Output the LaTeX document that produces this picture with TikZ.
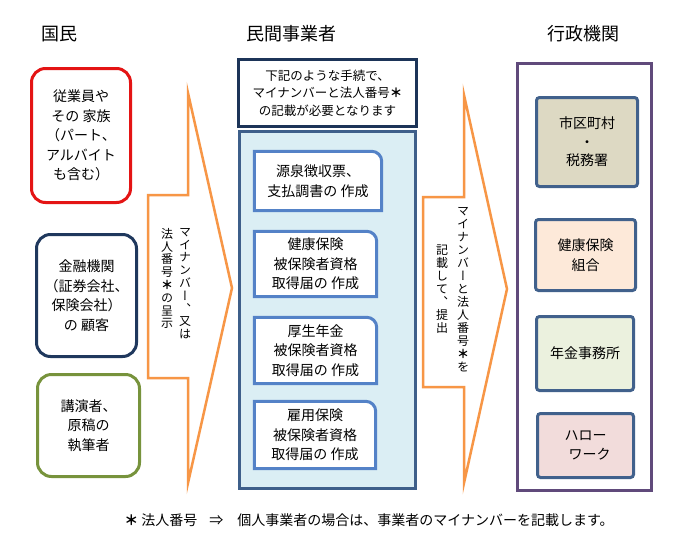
\documentclass[tikz,border=0pt]{standalone}
\usepackage{fontspec}
\setmainfont{Noto Sans CJK JP}
\newfontfamily\vjp[RawFeature=+vert]{Noto Sans CJK JP}
\definecolor{cred}{RGB}{228,20,20}
\definecolor{cnavy}{RGB}{31,56,93}
\definecolor{cgreen}{RGB}{119,147,60}
\definecolor{corange}{RGB}{247,150,70}
\definecolor{ctopnavy}{RGB}{28,52,88}
\definecolor{clblue}{RGB}{219,238,244}
\definecolor{cslate}{RGB}{62,95,138}
\definecolor{cinner}{RGB}{84,130,199}
\definecolor{cpurple}{RGB}{96,74,123}
\definecolor{cright}{RGB}{65,97,140}
\definecolor{ctan}{RGB}{221,217,195}
\definecolor{cpeach}{RGB}{253,233,217}
\definecolor{clgreen}{RGB}{235,241,222}
\definecolor{cpink}{RGB}{242,220,219}
\pgfdeclarelayer{back}
\pgfdeclarelayer{mid}
\pgfsetlayers{back,mid,main}
\tikzset{
  head/.style={font=\fontsize{18}{21}\selectfont},
  txt/.style={align=center, inner sep=0pt, font=\fontsize{14}{19.5}\selectfont},
  lbox/.style={txt, draw, line width=3pt, rounded corners=14pt, fill=white},
  vcol/.style={align=center, inner sep=0pt, anchor=north, font=\vjp\fontsize{12}{12.8}\selectfont},
  arrowshape/.style={draw=corange, fill=white, line width=2.5pt, line join=miter},
  ibox/.style={draw=cinner, fill=white, line width=3pt},
  rbox/.style={txt, draw=cright, line width=3pt, rounded corners=3pt},
}
\newcommand\trcornerbox[1]{%
  \begin{pgfonlayer}{mid}
  \filldraw[ibox] (#1.south west) -- (#1.north west) -- ([xshift=-10pt]#1.north east)
    arc[start angle=90, end angle=0, radius=10pt] -- (#1.south east) -- cycle;
  \end{pgfonlayer}}
\newcommand\bast{{\bfseries ＊}}
\begin{document}
\begin{tikzpicture}[x=1pt,y=1pt]
\useasboundingbox (0,0) rectangle (679,-533);
\begin{pgfonlayer}{back}
\fill[white] (0,0) rectangle (679,-533);
\end{pgfonlayer}

% headers
\node[head] (h1) at (59,-34) {国民};
\node[head] (h2) at (291,-34) {民間事業者};
\node[head] (h3) at (583,-34) {行政機関};

% left boxes
\node[lbox, draw=cred, minimum width=99pt, minimum height=134pt] (p1) at (81,-135.5)
  {従業員や\\その 家族\\（パート、\\アルバイト\\も含む）};
\node[lbox, draw=cnavy, minimum width=100pt, minimum height=122pt] (p2) at (86.5,-295.5)
  {金融機関\\（証券会社、\\保険会社）\\の 顧客};
\node[lbox, draw=cgreen, minimum width=102pt, minimum height=102pt] (p3) at (88.5,-425.5)
  {講演者、\\原稿の\\執筆者};

% arrow 1
\draw[arrowshape] (148,-195) -- (188,-195) -- (188,-93) -- (232,-288) -- (188,-483)
  -- (188,-378) -- (148,-378) -- cycle;
\node[vcol] (a1r) at (185,-228) {マ\\イ\\ナ\\ン\\バ\\ー\\、\\又\\は};
\node[vcol] (a1l) at (167,-228) {法\\人\\番\\号\\\bast\\の\\呈\\示};

% middle column
\begin{pgfonlayer}{back}
\node[draw=cslate, fill=clblue, line width=3pt, minimum width=176pt, minimum height=357pt, inner sep=0pt] (mbig) at (327.5,-310) {};
\end{pgfonlayer}
\node[draw=ctopnavy, fill=white, line width=3pt, minimum width=178pt, minimum height=67pt, align=center, inner sep=0pt,
  font=\fontsize{12.5}{17.5}\selectfont] (mtop) at (327.5,-93)
  {下記のような手続で、\\マイナンバーと法人番号\bast\\の記載が必要となります};

\node[txt, minimum width=127pt, minimum height=59pt] (m1) at (318,-181) {源泉徴収票、\\支払調書の 作成};
\trcornerbox{m1}
\node[txt, minimum width=122pt, minimum height=65pt] (m2) at (315.5,-264) {健康保険\\被保険者資格\\取得届の 作成};
\trcornerbox{m2}
\node[txt, minimum width=122pt, minimum height=66pt] (m3) at (315.5,-350.5) {厚生年金\\被保険者資格\\取得届の 作成};
\trcornerbox{m3}
\node[txt, minimum width=121pt, minimum height=67pt] (m4) at (315,-435) {雇用保険\\被保険者資格\\取得届の 作成};
\trcornerbox{m4}

% arrow 2
\draw[arrowshape] (423,-197) -- (464,-197) -- (464,-95) -- (507,-289) -- (464,-483)
  -- (464,-387) -- (423,-387) -- cycle;
\node[vcol, anchor=center, font=\vjp\fontsize{12}{13}\selectfont] (a2r) at (463,-290)
  {マ\\イ\\ナ\\ン\\バ\\ー\\と\\法\\人\\番\\号\\\bast\\を};
\node[vcol, anchor=center, font=\vjp\fontsize{12}{13}\selectfont] (a2l) at (442,-289)
  {記\\載\\し\\て\\、\\提\\出};

% right column
\node[draw=cpurple, line width=2.5pt, minimum width=134pt, minimum height=427pt, inner sep=0pt] (rbig) at (584.5,-277) {};
\node[rbox, fill=ctan, minimum width=101pt, minimum height=89pt, font=\fontsize{14}{18.5}\selectfont] (r1) at (587,-142) {市区町村\\・\\税務署};
\node[rbox, fill=cpeach, minimum width=100pt, minimum height=71pt] (r2) at (585.5,-255) {健康保険\\組合};
\node[rbox, fill=clgreen, minimum width=97pt, minimum height=74pt] (r3) at (585,-353.5) {年金事務所};
\node[rbox, fill=cpink, minimum width=96pt, minimum height=64pt] (r4) at (585.5,-445.5) {ハロー\\\hspace*{8pt}ワーク};

% footnote
\node[font=\fontsize{14}{16}\selectfont, inner sep=0pt] (fn) at (369,-520)
  {\bast\hspace{3pt}法人番号\hspace{12pt}⇒\hspace{14pt}個人事業者の場合は、事業者のマイナンバーを記載します。};
\end{tikzpicture}
\end{document}
